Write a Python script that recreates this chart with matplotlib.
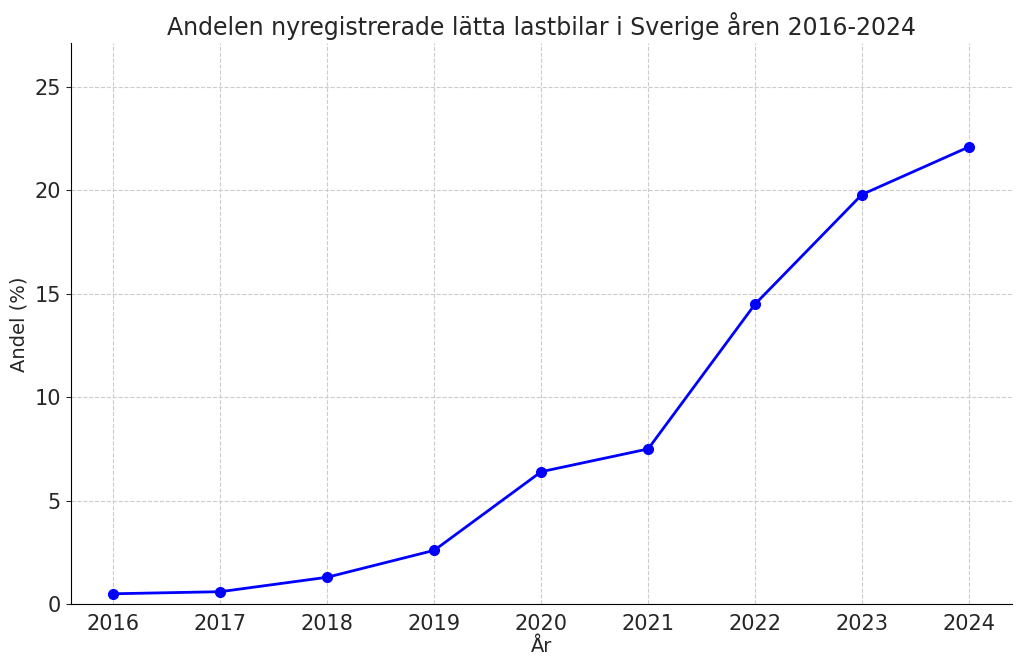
import numpy as np
from matplotlib import pyplot as plt

years = [2016, 2017, 2018, 2019, 2020, 2021, 2022, 2023, 2024]
share = [0.5, 0.6, 1.3, 2.6, 6.4, 7.5, 14.5, 19.8, 22.1]

text_col = '#262626'
plt.rcParams['font.family'] = 'DejaVu Sans'
plt.rcParams['text.color'] = text_col
plt.rcParams['axes.labelcolor'] = text_col
plt.rcParams['xtick.color'] = text_col
plt.rcParams['ytick.color'] = text_col

fig, ax = plt.subplots(figsize=(10.24, 6.69), dpi=100)
ax.plot(years, share, marker='o', color='blue', linewidth=2, markersize=7)

ax.set_title('Andelen nyregistrerade lätta lastbilar i Sverige åren 2016-2024', fontsize=17)
ax.set_xlabel('År', fontsize=14, labelpad=2)
ax.set_ylabel('Andel (%)', fontsize=14)
ax.set_xticks(years)
ax.set_ylim(0, max(share) + 5)
ax.tick_params(axis='both', labelsize=15)
ax.tick_params(axis='x', length=0, pad=7)
ax.grid(True, linestyle='--', color='#cccccc', linewidth=0.8)
ax.set_axisbelow(True)
for s in ['top', 'right']:
    ax.spines[s].set_visible(False)

plt.subplots_adjust(left=0.069, right=0.988, top=0.935, bottom=0.097)
plt.savefig('out.png')
